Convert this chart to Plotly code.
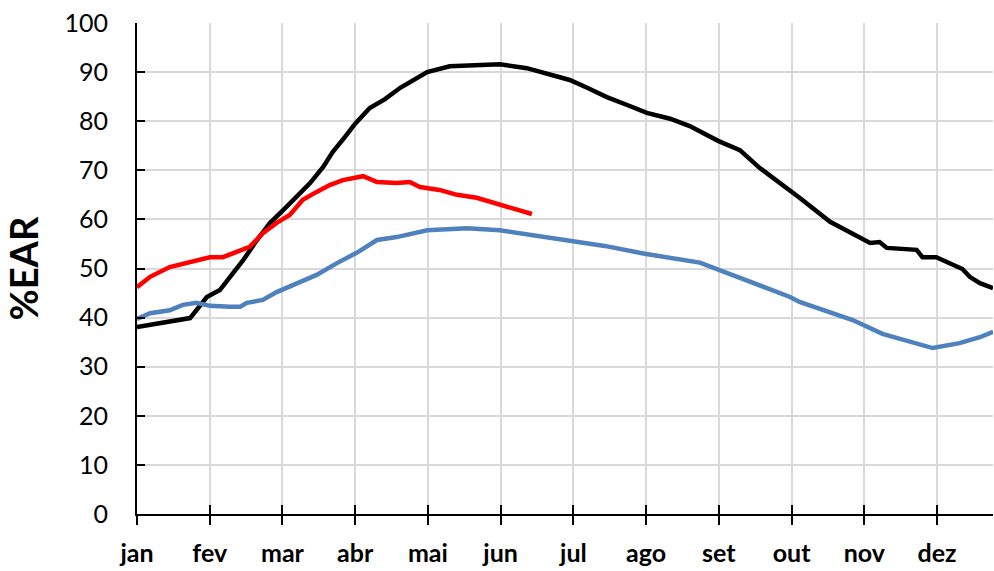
import plotly.graph_objects as go

months = ["jan", "fev", "mar", "abr", "mai", "jun", "jul", "ago", "set", "out", "nov", "dez"]
month_pos = list(range(12))

black_x = [0.00, 0.73, 0.96, 1.14, 1.28, 1.46, 1.65, 1.83, 2.01, 2.20, 2.38, 2.56, 2.69, 2.86,
           3.00, 3.20, 3.41, 3.62, 3.99, 4.30, 4.62, 4.99, 5.36, 5.68, 5.95, 6.19, 6.46, 6.74,
           7.01, 7.33, 7.60, 7.99, 8.29, 8.56, 8.84, 9.11, 9.53, 9.84, 10.08, 10.21, 10.31,
           10.72, 10.80, 10.99, 11.13, 11.35, 11.45, 11.59, 11.77]
black_y = [38.1, 39.9, 44.2, 45.6, 48.3, 51.7, 55.8, 59.3, 61.9, 64.6, 67.4, 70.7, 73.7, 76.8,
           79.5, 82.7, 84.5, 86.8, 90.0, 91.2, 91.4, 91.6, 90.8, 89.4, 88.4, 86.8, 84.9, 83.3,
           81.7, 80.5, 79.0, 76.0, 74.1, 70.5, 67.5, 64.4, 59.5, 57.2, 55.2, 55.4, 54.2,
           53.8, 52.3, 52.3, 51.3, 49.9, 48.3, 47.0, 46.0]

blue_x = [0.00, 0.18, 0.45, 0.63, 0.82, 1.00, 1.28, 1.42, 1.51, 1.73, 1.92, 2.20, 2.47, 2.75,
          3.02, 3.30, 3.57, 3.99, 4.54, 4.99, 5.44, 5.91, 6.43, 6.98, 7.74, 8.29, 8.98, 9.11,
          9.84, 10.25, 10.67, 10.94, 11.31, 11.59, 11.77]
blue_y = [39.7, 40.9, 41.5, 42.6, 43.0, 42.4, 42.2, 42.2, 43.0, 43.6, 45.2, 47.0, 48.7, 51.1,
          53.2, 55.8, 56.4, 57.8, 58.2, 57.8, 56.8, 55.8, 54.6, 53.0, 51.2, 48.1, 44.2, 43.2,
          39.5, 36.7, 34.8, 33.8, 34.8, 36.0, 37.1]

red_x = [0.00, 0.18, 0.45, 0.73, 1.00, 1.18, 1.37, 1.55, 1.73, 1.92, 2.10, 2.28, 2.47, 2.65,
         2.83, 3.11, 3.30, 3.57, 3.75, 3.89, 4.16, 4.40, 4.67, 4.89, 5.09, 5.43]
red_y = [46.2, 48.3, 50.3, 51.3, 52.3, 52.3, 53.4, 54.4, 57.2, 59.3, 60.9, 64.0, 65.6, 67.0,
         68.0, 68.8, 67.6, 67.4, 67.6, 66.6, 66.0, 65.0, 64.4, 63.5, 62.5, 61.1]

y_ticks = list(range(0, 101, 10))

FONT = "Lato, 'Open Sans', sans-serif"

fig = go.Figure()
fig.add_trace(go.Scatter(x=black_x, y=black_y, mode="lines",
                         line=dict(color="#000000", width=4.5), showlegend=False))
fig.add_trace(go.Scatter(x=blue_x, y=blue_y, mode="lines",
                         line=dict(color="#4F81BD", width=4.5), showlegend=False))
fig.add_trace(go.Scatter(x=red_x, y=red_y, mode="lines",
                         line=dict(color="#FF0000", width=4.5), showlegend=False))
# invisible trace on overlaying axis that carries the inside x tick marks
fig.add_trace(go.Scatter(x=[0], y=[0], xaxis="x2", mode="markers",
                         marker=dict(opacity=0), showlegend=False, hoverinfo="skip"))

xr = [0, 11.77]
yr = [0, 100]
fig.update_layout(
    width=994, height=571,
    margin=dict(l=137, r=1, t=23, b=57),
    paper_bgcolor="white", plot_bgcolor="white",
    font=dict(family=FONT, color="#000000"),
    xaxis=dict(range=xr, tickmode="array", tickvals=month_pos, ticktext=months,
               showgrid=True, gridcolor="#d9d9d9", gridwidth=1.5,
               showline=True, linecolor="#000000", linewidth=2,
               ticks="outside", ticklen=9, tickwidth=2, tickcolor="#000000",
               ticklabelstandoff=7, ticklabeloverflow="allow",
               tickfont=dict(size=25, family=FONT, weight="bold"),
               zeroline=False),
    xaxis2=dict(range=xr, overlaying="x", anchor="y", tickmode="array", tickvals=month_pos,
                showticklabels=False, ticks="inside", ticklen=9, tickwidth=2,
                tickcolor="#000000", showgrid=False, showline=False, zeroline=False),
    yaxis=dict(range=yr, tickmode="array", tickvals=y_ticks,
               showgrid=True, gridcolor="#d9d9d9", gridwidth=1.5,
               showline=True, linecolor="#000000", linewidth=2,
               ticks="inside", ticklen=8, tickwidth=2, tickcolor="#000000",
               ticklabelstandoff=22, ticklabeloverflow="allow",
               tickfont=dict(size=25, family=FONT),
               zeroline=False,
               title=dict(text="%EAR", standoff=16,
                          font=dict(size=38, family=FONT, weight="bold"))),
)

fig.write_html("out.html", config={"displayModeBar": False},
               post_script="document.body.style.margin='0';document.body.style.overflow='hidden';")
